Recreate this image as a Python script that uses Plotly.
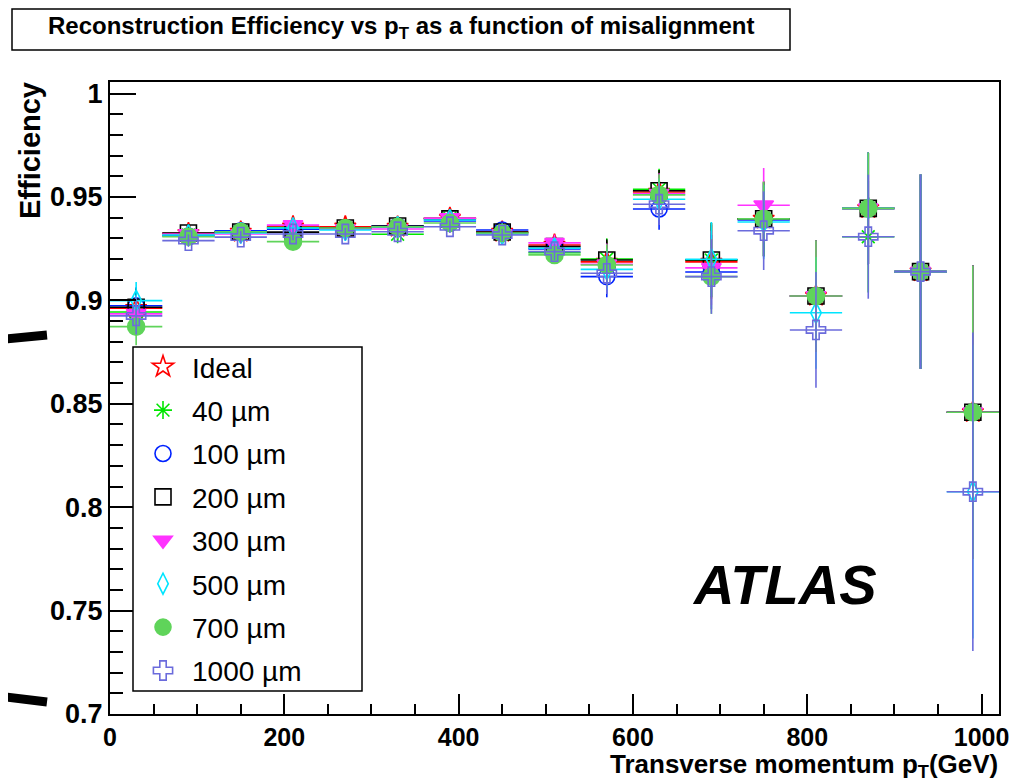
import plotly.graph_objects as go

# ---------------- data ----------------
pt = [30, 90, 150, 210, 270, 330, 390, 450, 510, 570, 630, 690, 750, 810, 870, 930, 990]
pt_halfwidth = [30] * 17

eff_ideal = [0.8962, 0.9324, 0.9331, 0.9356, 0.9356, 0.9355, 0.9398, 0.9331, 0.9268, 0.9186, 0.9524, 0.9186, 0.9394, 0.9021, 0.9445, 0.9139, 0.8459]
eff_40 = [0.8944, 0.9316, 0.9332, 0.9352, 0.9349, 0.9320, 0.9397, 0.9326, 0.9230, 0.9200, 0.9537, 0.9195, 0.9394, 0.9021, 0.9308, 0.9139, 0.8459]
eff_100 = [0.8974, 0.9311, 0.9336, 0.9344, 0.9345, 0.9360, 0.9384, 0.9340, 0.9249, 0.9115, 0.9442, 0.9137, 0.9389, 0.9021, 0.9445, 0.9139, 0.8459]
eff_200 = [0.8967, 0.9326, 0.9331, 0.9330, 0.9350, 0.9360, 0.9394, 0.9331, 0.9260, 0.9195, 0.9530, 0.9195, 0.9395, 0.9021, 0.9445, 0.9139, 0.8459]
eff_300 = [0.8935, 0.9321, 0.9321, 0.9364, 0.9345, 0.9345, 0.9398, 0.9321, 0.9278, 0.9175, 0.9515, 0.9157, 0.9460, 0.9021, 0.9445, 0.9139, 0.8459]
eff_500 = [0.8999, 0.9316, 0.9326, 0.9350, 0.9340, 0.9355, 0.9389, 0.9321, 0.9252, 0.9150, 0.9489, 0.9199, 0.9379, 0.8940, 0.9445, 0.9139, 0.8075]
eff_700 = [0.8873, 0.9308, 0.9332, 0.9284, 0.9350, 0.9356, 0.9374, 0.9326, 0.9220, 0.9171, 0.9510, 0.9115, 0.9394, 0.9021, 0.9445, 0.9139, 0.8459]
eff_1000 = [0.8925, 0.9289, 0.9306, 0.9321, 0.9321, 0.9332, 0.9356, 0.9316, 0.9236, 0.9131, 0.9465, 0.9115, 0.9337, 0.8857, 0.9308, 0.9139, 0.8075]

err_common = [0.009, 0.003, 0.003, 0.003, 0.003, 0.003, 0.003, 0.003, 0.004, 0.010, 0.010, 0.018, 0.018, 0.027, 0.027, 0.047, 0.071]
err_1000 = [0.009, 0.003, 0.003, 0.003, 0.003, 0.003, 0.003, 0.003, 0.004, 0.010, 0.010, 0.018, 0.019, 0.028, 0.030, 0.047, 0.077]

series_names = ["Ideal", "40 \u00b5m", "100 \u00b5m", "200 \u00b5m", "300 \u00b5m", "500 \u00b5m", "700 \u00b5m", "1000 \u00b5m"]
series_values = [eff_ideal, eff_40, eff_100, eff_200, eff_300, eff_500, eff_700, eff_1000]
series_errors = [err_common] * 7 + [err_1000]

x_ticks = [0, 200, 400, 600, 800, 1000]
y_ticks = [0.7, 0.75, 0.8, 0.85, 0.9, 0.95, 1.0]
y_ticklabels = ["0.7", "0.75", "0.8", "0.85", "0.9", "0.95", "1"]

# ---------------- styles ----------------
symbols = ["star-open", "asterisk-open", "circle-open", "square-open", "triangle-down", "diamond-tall-open", "circle", "cross-open"]
colors = ["#ff0000", "#00e600", "#0022ff", "#000000", "#ff33ff", "#00e5ff", "#5fd45a", "#6b6bdc"]
sizes = [16, 15, 16, 16, 17, 15, 17, 16]

FONT = "Liberation Sans, Arial, Helvetica, sans-serif"

fig = go.Figure()
for name, vals, errs, sym, col, sz in zip(series_names, series_values, series_errors, symbols, colors, sizes):
    fig.add_trace(go.Scatter(
        x=pt, y=vals, mode="markers", name=name, legendgroup=name,
        marker=dict(symbol=sym, color=col, size=sz, line=dict(color=col, width=1.6)),
        error_x=dict(type="data", array=pt_halfwidth, color=col, thickness=1.6, width=0),
        error_y=dict(type="data", array=errs, color=col, thickness=1.6, width=0),
    ))

# page body has an 8px margin: the figure is shifted by OFF px
OFF = 8
W, H = 1017 - OFF, 782 - OFF
L, R, T, B = 110 - OFF, 18, 82 - OFF, 68
pw, ph = W - L - R, H - T - B


def px(xp):
    """reference page x pixel -> paper x"""
    return (xp - OFF - L) / pw


def py(yp):
    """reference page y pixel -> paper y"""
    return (H - B - (yp - OFF)) / ph


shapes = [
    # title box
    dict(type="rect", xref="paper", yref="paper", x0=px(12), x1=px(790), y0=py(50), y1=py(9),
         line=dict(color="black", width=1.5), fillcolor="white", layer="above"),
    # legend box
    dict(type="rect", xref="paper", yref="paper", x0=px(133), x1=px(362), y0=py(691), y1=py(347),
         line=dict(color="black", width=1.5), fillcolor="white", layer="above"),
    # stray thick strokes at left edge
    dict(type="line", xref="paper", yref="paper", x0=px(47), y0=py(335), x1=px(6), y1=py(339),
         line=dict(color="black", width=9), layer="above"),
    dict(type="line", xref="paper", yref="paper", x0=px(47), y0=py(702), x1=px(6), y1=py(697),
         line=dict(color="black", width=9), layer="above"),
]

annotations = [
    dict(text="<b>Reconstruction Efficiency vs p<sub>T</sub> as a function of misalignment</b>",
         xref="paper", yref="paper", x=px(401), y=py(28), xanchor="center", yanchor="middle",
         showarrow=False, font=dict(family=FONT, size=24, color="black")),
    dict(text="<b>Efficiency</b>", xref="paper", yref="paper", x=px(30), y=py(151),
         xanchor="center", yanchor="middle", textangle=-90, showarrow=False,
         font=dict(family=FONT, size=29, color="black")),
    dict(text="<b>Transverse momentum p<sub>T</sub>(GeV)</b>", xref="paper", yref="paper",
         x=px(1000), y=py(765), xanchor="right", yanchor="middle", showarrow=False,
         font=dict(family=FONT, size=26, color="black")),
    dict(text="<b><i>ATLAS</i></b>", xref="paper", yref="paper", x=px(784), y=py(584),
         xanchor="center", yanchor="middle", showarrow=False,
         font=dict(family=FONT, size=56, color="black")),
]

fig.update_layout(
    width=W, height=H,
    margin=dict(l=L, r=R, t=T, b=B, autoexpand=False),
    paper_bgcolor="white", plot_bgcolor="white",
    font=dict(family=FONT, color="black"),
    showlegend=True,
    legend=dict(x=px(134), y=py(342), xanchor="left", yanchor="top",
                bgcolor="rgba(0,0,0,0)", borderwidth=0,
                font=dict(family=FONT, size=28, color="black"),
                itemwidth=48, tracegroupgap=4, traceorder="grouped"),
    shapes=shapes,
    annotations=annotations,
    xaxis=dict(range=[0, 1020], tickvals=x_ticks, ticks="inside", ticklen=20, tickwidth=1.5,
               tickcolor="black", showline=True, linecolor="black", linewidth=2, mirror=True,
               showgrid=False, zeroline=False,
               tickfont=dict(family=FONT, size=25, color="black", weight="bold"),
               minor=dict(dtick=50, ticks="inside", ticklen=10, tickwidth=1.5, tickcolor="black", showgrid=False)),
    yaxis=dict(range=[0.7, 1.0056], tickvals=y_ticks, ticktext=y_ticklabels, ticks="inside", ticklen=26,
               tickwidth=1.5, tickcolor="black", showline=True, linecolor="black", linewidth=2, mirror=True,
               showgrid=False, zeroline=False,
               tickfont=dict(family=FONT, size=27, color="black", weight="bold"),
               minor=dict(dtick=0.01, ticks="inside", ticklen=13, tickwidth=1.5, tickcolor="black", showgrid=False)),
)

fig.write_html("out.html")
